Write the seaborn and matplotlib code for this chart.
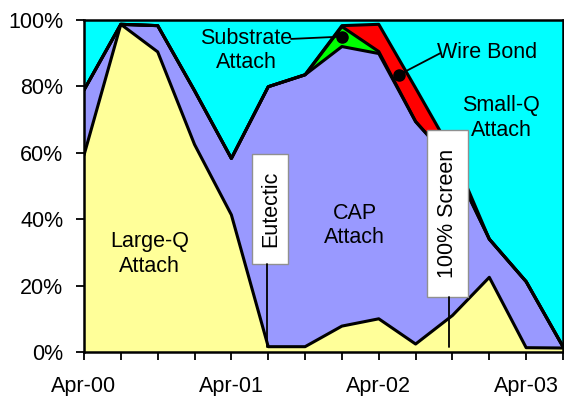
import numpy as np
import matplotlib
matplotlib.use("Agg")
import matplotlib.pyplot as plt
from matplotlib.patches import Rectangle
import seaborn as sns

# Quarterly share of die-attach processes (percent of volume)
quarters = ["Apr-00", "Jul-00", "Oct-00", "Jan-01", "Apr-01", "Jul-01", "Oct-01",
            "Jan-02", "Apr-02", "Jul-02", "Oct-02", "Jan-03", "Apr-03", "Jul-03"]
large_q = [59.3, 98.7, 90.4, 62.5, 41.3, 1.6, 1.6, 7.8, 10.0, 2.4, 11.0, 22.5, 1.3, 1.2]
cap = [19.6, 0.0, 7.9, 16.2, 17.0, 78.3, 81.9, 84.2, 79.9, 67.0, 46.0, 11.5, 19.9, 0.4]
substrate = [0, 0, 0, 0, 0, 0, 0, 6.0, 0.6, 0, 0, 0, 0, 0]
wire_bond = [0, 0, 0, 0, 0, 0, 0, 0.3, 8.2, 10.1, 3.0, 0, 0, 0]
small_q = [21.1, 1.3, 1.7, 21.3, 41.7, 20.1, 16.5, 1.7, 1.3, 20.5, 40.0, 66.0, 78.8, 98.4]

tick_labels = ["Apr-00", "Apr-01", "Apr-02", "Apr-03"]
layers = [large_q, cap, substrate, wire_bond, small_q]
colors = ["#FFFF99", "#9999FF", "#00FF00", "#FF0000", "#00FFFF"]

sns.set_style("ticks")
plt.rcParams["font.family"] = ["Liberation Sans", "DejaVu Sans"]
plt.rcParams["text.color"] = "black"
plt.rcParams["xtick.color"] = "black"
plt.rcParams["ytick.color"] = "black"
FS = 15.5

fig = plt.figure(figsize=(5.64, 3.96), dpi=100)
ax = fig.add_axes([84 / 564, 1 - 352 / 396, (563 - 84) / 564, (352 - 20) / 396])

x = np.arange(len(quarters))
cum = np.cumsum(np.array(layers, dtype=float), axis=0)
lower = np.zeros(len(x))
for k, col in enumerate(colors):
    ax.fill_between(x, lower, cum[k], color=col, linewidth=0, zorder=1)
    lower = cum[k]

# Black outlines along every stacked boundary
for k in range(len(layers) - 1):
    sns.lineplot(x=x, y=cum[k], color="black", linewidth=2.2, ax=ax,
                 legend=False, zorder=3)

ax.set_xlim(0, len(x) - 1)
ax.set_ylim(0, 100)
ax.set_xticks(x)
ax.set_xticklabels([q if q in tick_labels else "" for q in quarters], fontsize=FS,
                   color="black")
ax.set_yticks(np.arange(0, 101, 20))
ax.set_yticklabels([f"{v}%" for v in range(0, 101, 20)], fontsize=FS, color="black")
ax.tick_params(axis="x", direction="out", length=6, width=1.3, pad=11, colors="black")
ax.tick_params(axis="y", direction="out", length=6, width=1.3, pad=9, colors="black")
for s in ax.spines.values():
    s.set_visible(True)
    s.set_color("black")
    s.set_linewidth(1.8)
    s.set_zorder(5)
ax.set_xlabel("")
ax.set_ylabel("")

# Process-change markers
def marker_box(x0, x1, y0, y1, label, xline, yend):
    ax.add_patch(Rectangle((x0, y0), x1 - x0, y1 - y0, facecolor="white",
                           edgecolor="#909090", linewidth=1, zorder=6))
    ax.text((x0 + x1) / 2, (y0 + y1) / 2, label, rotation=90, ha="center",
            va="center", fontsize=FS, color="black", zorder=7)
    ax.plot([xline, xline], [y0, yend], color="black", linewidth=1.3, zorder=6)

marker_box(4.56, 5.55, 26.5, 59.6, "Eutectic", 4.98, large_q[5])
marker_box(9.31, 10.42, 16.7, 66.9, "100% Screen", 9.91, 1.5)

# Area labels
label_kw = dict(ha="center", va="center", fontsize=FS, color="black", zorder=7)
ax.text(1.78, 29.5, "Large-Q\nAttach", **label_kw)
ax.text(7.35, 38.0, "CAP\nAttach", **label_kw)
ax.text(11.32, 70.5, "Small-Q\nAttach", **label_kw)
ax.text(4.41, 90.7, "Substrate\nAttach", **label_kw)
ax.text(10.95, 90.1, "Wire Bond", **label_kw)

# Leaders to the thin bands
sub_x = 7.0
sub_y = (cum[1][7] + cum[2][7]) / 2
wb_x = 8.55
wb_y = (np.interp(wb_x, x, cum[2]) + np.interp(wb_x, x, cum[3])) / 2
ax.plot([5.62, sub_x], [94.3, sub_y], color="black", linewidth=1.3, zorder=6)
ax.plot([9.67, wb_x], [90.0, wb_y], color="black", linewidth=1.3, zorder=6)
ax.plot([sub_x, wb_x], [sub_y, wb_y], linestyle="none", marker="o",
        markersize=8, color="black", zorder=7)

fig.savefig("out.png", dpi=100, facecolor="white")
